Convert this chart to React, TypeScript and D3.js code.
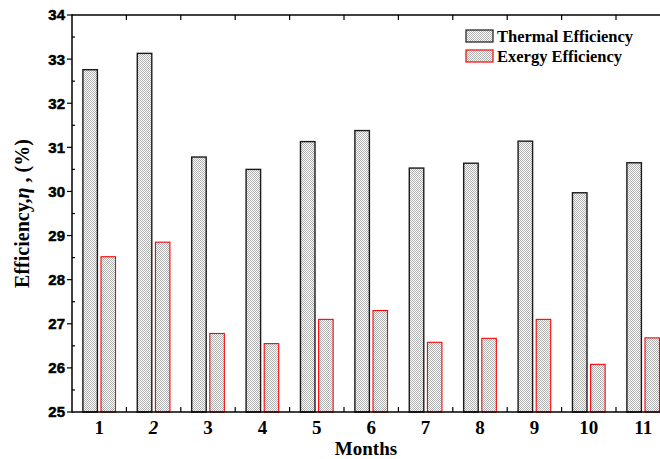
import { useEffect, useRef } from 'react'
import * as d3 from 'd3'

const months = ['1', '2', '3', '4', '5', '6', '7', '8', '9', '10', '11']
const thermal = [32.76, 33.13, 30.78, 30.5, 31.13, 31.38, 30.53, 30.64, 31.14, 29.97, 30.65]
const exergy = [28.52, 28.85, 26.78, 26.55, 27.1, 27.3, 26.58, 26.67, 27.1, 26.08, 26.68]
const yTicks = [25, 26, 27, 28, 29, 30, 31, 32, 33, 34]
const seriesNames = ['Thermal Efficiency', 'Exergy Efficiency']
const seriesStroke = ['#1a1a1a', '#ff0000']

export default function App() {
  const svgRef = useRef<SVGSVGElement>(null)
  const width = 660
  const height = 459

  useEffect(() => {
    const el = svgRef.current
    if (!el) return

    const left = 72, top = 15, bottom = 412
    const step = 54.4
    const right = left + step * months.length
    const serif = '"Liberation Serif", "Times New Roman", serif'
    const sans = 'Arial, "Liberation Sans", sans-serif'

    const x = d3.scaleBand<string>().domain(months).range([left, right])
      .paddingInner(0.4).paddingOuter(0.2)
    const xs = d3.scaleBand<number>().domain([0, 1]).range([0, x.bandwidth()]).paddingInner(0.2)
    const y = d3.scaleLinear().domain([25, 34]).range([bottom, top])

    const svg = d3.select(el)
    svg.selectAll('*').remove()

    // fine checker fill like the original
    const defs = svg.append('defs')
    const pat = defs.append('pattern').attr('id', 'dots')
      .attr('width', 2).attr('height', 2).attr('patternUnits', 'userSpaceOnUse')
    pat.append('rect').attr('width', 2).attr('height', 2).attr('fill', '#ffffff')
    pat.append('rect').attr('x', 0).attr('y', 0).attr('width', 1).attr('height', 1).attr('fill', '#b0b0b0')
    pat.append('rect').attr('x', 1).attr('y', 1).attr('width', 1).attr('height', 1).attr('fill', '#b0b0b0')

    const series = [thermal, exergy]
    series.forEach((vals, si) => {
      svg.append('g').selectAll('rect').data(vals).join('rect')
        .attr('x', (_, i) => (x(months[i]) ?? 0) + (xs(si) ?? 0))
        .attr('y', d => y(d))
        .attr('width', xs.bandwidth())
        .attr('height', d => bottom - y(d))
        .attr('fill', 'url(#dots)')
        .attr('stroke', seriesStroke[si])
        .attr('stroke-width', si === 0 ? 1.4 : 1.1)
    })

    // axes frame
    const ax = svg.append('g').attr('stroke', '#000').attr('stroke-width', 1.5)
    ax.append('line').attr('x1', left).attr('x2', width).attr('y1', top).attr('y2', top)
    ax.append('line').attr('x1', left).attr('x2', width).attr('y1', bottom).attr('y2', bottom)
    ax.append('line').attr('x1', left).attr('x2', left).attr('y1', top - 0.75).attr('y2', bottom + 0.75)

    // y ticks
    const tk = svg.append('g').attr('stroke', '#000').attr('stroke-width', 1.2)
    yTicks.forEach(t => {
      tk.append('line').attr('x1', left - 5).attr('x2', left).attr('y1', y(t)).attr('y2', y(t))
      if (t < 34) {
        tk.append('line').attr('x1', left).attr('x2', left + 3)
          .attr('y1', y(t + 0.5)).attr('y2', y(t + 0.5))
      }
    })
    svg.append('g').selectAll('text').data(yTicks).join('text')
      .attr('x', left - 7)
      .attr('y', d => y(d))
      .attr('dy', '0.36em')
      .attr('text-anchor', 'end')
      .attr('font-family', sans)
      .style('font-weight', '700')
      .attr('font-size', '15px')
      .attr('stroke', '#000')
      .attr('stroke-width', 0.5)
      .text(d => d)

    // x minor ticks between categories (top and bottom, inward)
    for (let i = 1; i < months.length; i++) {
      const mx = left + step * i
      tk.append('line').attr('x1', mx).attr('x2', mx).attr('y1', bottom).attr('y2', bottom - 5)
      tk.append('line').attr('x1', mx).attr('x2', mx).attr('y1', top).attr('y2', top + 5)
    }

    svg.append('g').selectAll('text').data(months).join('text')
      .attr('x', d => (x(d) ?? 0) + x.bandwidth() / 2)
      .attr('y', bottom + 22)
      .attr('text-anchor', 'middle')
      .attr('font-family', serif)
      .attr('font-weight', 'bold')
      .attr('font-style', d => (d === '2' ? 'italic' : 'normal'))
      .attr('font-size', '19px')
      .text(d => d)

    // axis titles
    svg.append('text')
      .attr('x', 366).attr('y', 455)
      .attr('text-anchor', 'middle')
      .attr('font-family', serif)
      .attr('font-weight', 'bold')
      .attr('font-size', '19px')
      .text('Months')

    const yl = svg.append('text')
      .attr('transform', `translate(29,${(top + bottom) / 2}) rotate(-90)`)
      .attr('text-anchor', 'middle')
      .attr('font-family', serif)
      .attr('font-weight', 'bold')
      .attr('font-size', '20px')
    yl.append('tspan').text('Efficiency,')
    yl.append('tspan').attr('font-style', 'italic').text('η')
    yl.append('tspan').text(' , (%)')

    // legend
    const lg = svg.append('g').attr('transform', 'translate(466,30)')
    seriesNames.forEach((name, i) => {
      const row = lg.append('g').attr('transform', `translate(0,${i * 20})`)
      row.append('rect').attr('width', 27).attr('height', 12)
        .attr('fill', 'url(#dots)').attr('stroke', seriesStroke[i]).attr('stroke-width', 1.2)
      row.append('text').attr('x', 31).attr('y', 12)
        .attr('font-family', serif)
        .attr('font-weight', 'bold')
        .attr('font-size', '16.5px')
        .text(name)
    })
  }, [])

  return (
    <svg
      ref={svgRef}
      width={width}
      height={height}
      style={{ position: 'absolute', left: 0, top: 0, display: 'block', background: '#fff' }}
    />
  )
}
